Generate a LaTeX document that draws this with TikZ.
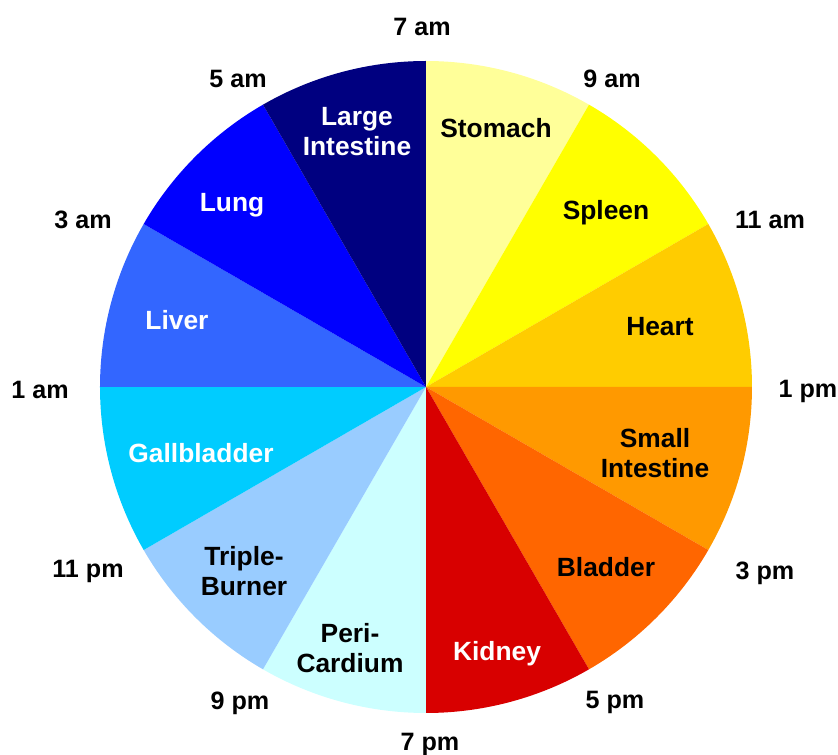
\documentclass[tikz,border=0pt]{standalone}
\usepackage{fontspec}
\setmainfont{Liberation Sans}
\usetikzlibrary{positioning}
\definecolor{stomachc}{HTML}{FFFF99}
\definecolor{spleenc}{HTML}{FFFF00}
\definecolor{heartc}{HTML}{FFCC00}
\definecolor{smallc}{HTML}{FF9900}
\definecolor{bladderc}{HTML}{FF6600}
\definecolor{kidneyc}{HTML}{D80000}
\definecolor{pericc}{HTML}{CCFFFF}
\definecolor{triplec}{HTML}{99CCFF}
\definecolor{gallc}{HTML}{00CCFF}
\definecolor{liverc}{HTML}{3366FF}
\definecolor{lungc}{HTML}{0000FF}
\definecolor{largec}{HTML}{000080}

\begin{document}
\begin{tikzpicture}[
  organ/.style={
    align=center,
    inner sep=0pt,
    font=\fontsize{15}{17}\selectfont\bfseries
  },
  dark/.style={organ,text=white},
  hour/.style={
    inner sep=0pt,
    font=\fontsize{14.3}{17}\selectfont\bfseries
  }
]
  \useasboundingbox (-8.52,-7.36) rectangle (8.24,7.74);

  % the twelve sectors, clockwise from the top
  \foreach \a/\c in {90/stomachc,60/spleenc,30/heartc,0/smallc,
                     -30/bladderc,-60/kidneyc,-90/pericc,-120/triplec,
                     -150/gallc,-180/liverc,-210/lungc,-240/largec}
    \fill[\c] (0,0) -- (\a:6.52) arc[start angle=\a, end angle=\a-30, radius=6.52] -- cycle;

  \node[dark]  (large)   at (-1.38,5.10)  {Large\\Intestine};
  \node[organ] (stomach) at (1.40,5.18)   {Stomach};
  \node[organ] (spleen)  at (3.60,3.48)   {Spleen};
  \node[organ] (heart)   at (4.68,1.20)   {Heart};
  \node[organ] (small)   at (4.58,-1.32)  {Small\\Intestine};
  \node[organ] (bladder) at (3.60,-3.60)  {Bladder};
  \node[dark]  (kidney)  at (1.42,-5.34)  {Kidney};
  \node[organ] (peri)    at (-1.52,-5.22) {Peri-\\Cardium};
  \node[organ] (triple)  at (-3.64,-3.68) {Triple-\\Burner};
  \node[dark]  (gall)    at (-4.50,-1.32) {Gallbladder};
  \node[dark]  (liver)   at (-4.98,1.34)  {Liver};
  \node[dark]  (lung)    at (-3.88,3.64)  {Lung};

  \node[hour] (h7am)  at (-0.08,7.20)  {7 am};
  \node[hour] (h9am)  at (3.72,6.16)   {9 am};
  \node[hour] (h11am) at (6.88,3.34)   {11 am};
  \node[hour] (h1pm)  at (7.64,-0.08)  {1 pm};
  \node[hour] (h3pm)  at (6.78,-3.72)  {3 pm};
  \node[hour] (h5pm)  at (3.78,-6.30)  {5 pm};
  \node[hour] (h7pm)  at (0.08,-7.14)  {7 pm};
  \node[hour] (h9pm)  at (-3.72,-6.32) {9 pm};
  \node[hour] (h11pm) at (-6.76,-3.68) {11 pm};
  \node[hour] (h1am)  at (-7.72,-0.06) {1 am};
  \node[hour] (h3am)  at (-6.86,3.34)  {3 am};
  \node[hour] (h5am)  at (-3.76,6.16)  {5 am};
\end{tikzpicture}
\end{document}
